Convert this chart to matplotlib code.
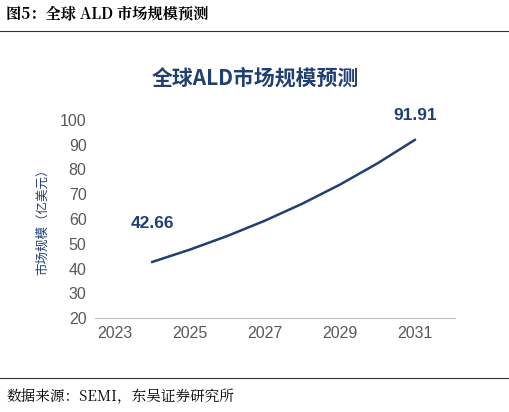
import matplotlib
matplotlib.use('Agg')
import matplotlib.pyplot as plt

plt.rcParams['font.family'] = ['Noto Sans CJK SC', 'DejaVu Sans']

years = [2024, 2025, 2026, 2027, 2028, 2029, 2030, 2031]
market = [42.66, 47.61, 53.13, 59.29, 66.17, 73.84, 82.41, 91.91]
xticks = [2023, 2025, 2027, 2029, 2031]
yticks = [20, 30, 40, 50, 60, 70, 80, 90, 100]

BLUE = '#203f72'
GRAY = '#595959'
NUMFONT = ['Liberation Sans', 'DejaVu Sans']

fig = plt.figure(figsize=(5.1, 4.12), dpi=100)
fig.patch.set_facecolor('white')

fig.text(0.012, 0.965, '图5：全球 ALD 市场规模预测', fontsize=11, fontweight='bold',
         color='black', ha='left', va='center', family=['Noto Serif CJK SC', 'Noto Sans CJK SC', 'DejaVu Serif'])
fig.add_artist(plt.Line2D([0.0, 1.0], [0.925, 0.925], color='#333333', lw=0.8))
fig.add_artist(plt.Line2D([0.0, 1.0], [0.083, 0.083], color='#333333', lw=0.8))
fig.text(0.012, 0.037, '数据来源：SEMI，东吴证券研究所', fontsize=10.5, color='black',
         ha='left', va='center', family=['Noto Serif CJK SC', 'Noto Sans CJK SC', 'DejaVu Serif'])

fig.text(0.5, 0.81, '全球ALD市场规模预测', fontsize=15, fontweight='bold', color=BLUE,
         ha='center', va='center')

ax = fig.add_axes([0.186, 0.228, 0.706, 0.481])
ax.plot(years, market, color=BLUE, lw=1.8)
ax.set_xlim(2022.47, 2032.07)
ax.set_ylim(20, 100)
ax.set_xticks(xticks)
ax.set_yticks(yticks)
ax.tick_params(axis='both', colors=GRAY, labelsize=11.5, length=0, pad=6)
for lab in ax.get_xticklabels() + ax.get_yticklabels():
    lab.set_family(NUMFONT)
for s in ['top', 'right', 'left']:
    ax.spines[s].set_visible(False)
ax.spines['bottom'].set_color('#bfbfbf')
ax.set_ylabel('市场规模（亿美元）', color=BLUE, fontsize=9, labelpad=8)

ax.annotate(f'{market[0]:.2f}', (years[0], market[0]), xytext=(0, 22), textcoords='offset points',
            ha='center', va='bottom', fontsize=12.5, fontweight='bold', color=BLUE, family=NUMFONT)
ax.annotate(f'{market[-1]:.2f}', (years[-1], market[-1]), xytext=(0, 12), textcoords='offset points',
            ha='center', va='bottom', fontsize=12.5, fontweight='bold', color=BLUE, family=NUMFONT)

fig.savefig('out.png', dpi=100, facecolor='white')
